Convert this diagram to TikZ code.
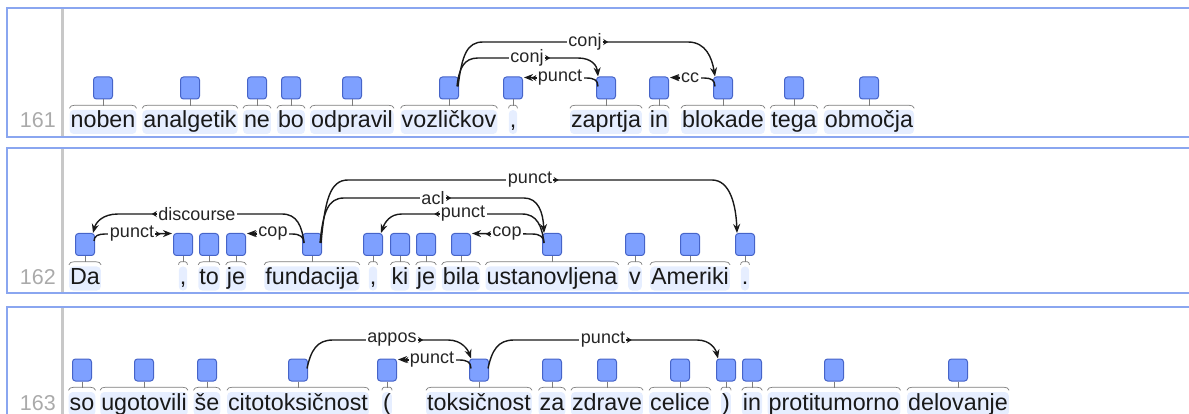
\documentclass[tikz,border=0pt]{standalone}
\usepackage{fontspec}
\setmainfont{Liberation Sans}
\usetikzlibrary{arrows.meta}
\definecolor{panel}{RGB}{138,166,240}
\definecolor{boxfill}{RGB}{126,160,255}
\definecolor{boxdraw}{RGB}{70,100,200}
\definecolor{wordbg}{RGB}{230,238,255}
\definecolor{bracec}{RGB}{125,125,125}
\definecolor{numc}{RGB}{170,170,170}
\definecolor{sepc}{RGB}{200,200,200}
\tikzset{
  panelbox/.style={draw=panel, line width=2pt},
  sepline/.style={draw=sepc, line width=3pt},
  tokbox/.style={draw=boxdraw, fill=boxfill, line width=1pt, rounded corners=3pt, minimum width=19pt, minimum height=22pt, inner sep=0pt},
  word/.style={fill=wordbg, rounded corners=4pt, inner xsep=1pt, inner ysep=1pt, text height=17pt, text depth=5pt, font=\fontsize{23.3}{28}\selectfont, text=black!90},
  linenum/.style={anchor=base east, text=numc, font=\fontsize{21.5}{26}\selectfont, inner sep=0pt},
  bracel/.style={draw=bracec, line width=0.7pt},
  arcl/.style={draw=black!90, line width=1.4pt, -{Stealth[length=9pt,width=7pt]}},
  arclab/.style={fill=white, inner xsep=1.5pt, inner ysep=0.5pt, font=\fontsize{18}{20}\selectfont, text=black!85},
  markline/.style={draw=black!90, line width=1.2pt}
}
\newcommand{\tokbrace}[3]{%
  \draw[bracel] ([yshift=1.5pt]#1.north west) to[out=80,in=180] ([xshift=#3pt,yshift=4.5pt]#1.north west) -- ([xshift=-#3pt,yshift=4.5pt]#1.north east) to[out=0,in=100] ([yshift=1.5pt]#1.north east);
  \draw[bracel] (#2.south) -- ++(0,6.5);}
\newcommand{\lblmarkR}[1]{\draw[markline,-{Stealth[length=5pt,width=6pt]}] ([xshift=-0.5pt]#1.east) -- ++(5.5,0);}
\newcommand{\lblmarkL}[1]{\draw[markline,-{Stealth[length=5pt,width=6pt]}] ([xshift=0.5pt]#1.west) -- ++(-5.5,0);}
\begin{document}
\begin{tikzpicture}[x=1pt,y=-1pt]
\useasboundingbox (0,0) rectangle (1189,414);
\clip (0,0) rectangle (1189,414);
% panels
\draw[panelbox] (1200,8) -- (7,8) -- (7,137) -- (1200,137);
\draw[panelbox] (1200,148) -- (7,148) -- (7,293) -- (1200,293);
\draw[panelbox] (1200,307) -- (7,307) -- (7,430);
\draw[sepline] (62,9) -- (62,136);
\draw[sepline] (62,149) -- (62,292);
\draw[sepline] (62,308) -- (62,414);
\node[linenum] (n161) at (56,128) {161};
\node[linenum] (n162) at (56,284.5) {162};
\node[linenum] (n163) at (56,410) {163};

% ---------- sentence 161 ----------
\foreach \c/\n/\t/\r in {103/1/noben/5, 190/2/analgetik/5, 257/3/ne/5, 291/4/bo/5, 352/5/odpravil/5, 449/6/vozličkov/5, 513/7/{,}/2, 606/8/zaprtja/5, 659/9/in/5, 723/10/blokade/5, 794/11/tega/5, 869/12/območja/5}{
  \node[word] (wa\n) at (\c,122) {\t};
  \node[tokbox] (a\n) at (\c,88) {};
  \tokbrace{wa\n}{a\n}{\r}
}
\draw[arcl] ([xshift=-1pt,yshift=-10pt]a6.north east) .. controls (462,55) and (467,42) .. (483,42) -- (688,42) .. controls (706,42) and (712,58) .. ([xshift=2pt]a10.north west);
\draw[arcl] ([xshift=-2pt,yshift=-10pt]a6.north east) .. controls (459,68) and (464,58) .. (478,58) -- (578,58) .. controls (592,58) and (597,66) .. ([xshift=2pt]a8.north west);
\draw[arcl] ([xshift=2pt,yshift=-10pt]a8.north west) .. controls (598,80) and (594,78) .. (586,78) -- ([xshift=1pt,yshift=-1pt]a7.north east);
\draw[arcl] ([xshift=2pt,yshift=-10pt]a10.north west) .. controls (715,80) and (711,78) .. (704,78) -- ([xshift=1pt,yshift=-1pt]a9.north east);
\node[arclab] (la1) at (585,42) {conj}; \lblmarkR{la1}
\node[arclab] (la2) at (527,58) {conj}; \lblmarkR{la2}
\node[arclab] (la3) at (560,78) {punct}; \lblmarkL{la3}
\node[arclab] (la4) at (690,78) {cc}; \lblmarkL{la4}

% ---------- sentence 162 ----------
\foreach \c/\n/\t/\r in {85/1/Da/5, 183/2/{,}/2, 209/3/to/5, 236/4/je/5, 312/5/fundacija/5, 373/6/{,}/2, 400/7/ki/5, 426/8/je/5, 461/9/bila/5, 552/10/ustanovljena/5, 635/11/v/3, 690/12/Ameriki/5, 745/13/./2}{
  \node[word] (wb\n) at (\c,278.5) {\t};
  \node[tokbox] (b\n) at (\c,244.5) {};
  \tokbrace{wb\n}{b\n}{\r}
}
\draw[arcl] ([xshift=2pt,yshift=-10pt]b5.north west) .. controls (302,226) and (297,214) .. (282,214) -- (118,214) .. controls (103,214) and (96,222) .. ([xshift=-2pt]b1.north east);
\draw[arcl] ([xshift=-1pt,yshift=-8pt]b1.north east) .. controls (94,236) and (98,234) .. (105,234) -- ([xshift=-1pt,yshift=-0.5pt]b2.north west);
\draw[arcl] ([xshift=2pt,yshift=-10pt]b5.north west) .. controls (304,237) and (300,234) .. (292,234) -- ([xshift=1pt,yshift=-0.5pt]b4.north east);
\draw[arcl] ([xshift=-1pt,yshift=-10pt]b5.north east) .. controls (325,200) and (330,180) .. (348,180) -- (712,180) .. controls (730,180) and (736,205) .. ([xshift=2pt]b13.north west);
\draw[arcl] ([xshift=-2pt,yshift=-10pt]b5.north east) .. controls (323,212) and (328,198) .. (344,198) -- (524,198) .. controls (538,198) and (543,212) .. ([xshift=2pt]b10.north west);
\draw[arcl] ([xshift=2pt,yshift=-10pt]b10.north west) .. controls (542,226) and (537,214) .. (522,214) -- (402,214) .. controls (390,214) and (385,222) .. ([xshift=-2pt]b6.north east);
\draw[arcl] ([xshift=2pt,yshift=-10pt]b10.north west) .. controls (544,237) and (540,234) .. (532,234) -- ([xshift=1pt,yshift=-0.5pt]b9.north east);
\node[arclab] (lb1) at (197,214) {discourse}; \lblmarkL{lb1}
\node[arclab] (lb2) at (132,234) {punct}; \lblmarkR{lb2}
\node[arclab] (lb3) at (273,234) {cop}; \lblmarkL{lb3}
\node[arclab] (lb4) at (530,180) {punct}; \lblmarkR{lb4}
\node[arclab] (lb5) at (433,198) {acl}; \lblmarkR{lb5}
\node[arclab] (lb6) at (463,214) {punct}; \lblmarkL{lb6}
\node[arclab] (lb7) at (507,234) {cop}; \lblmarkL{lb7}

% ---------- sentence 163 ----------
\foreach \c/\n/\t/\r in {82/1/so/5, 144/2/ugotovili/5, 207/3/še/5, 298/4/citotoksičnost/5, 387/5/(/2, 479/6/toksičnost/5, 552/7/za/5, 607/8/zdrave/5, 680/9/celice/5, 726/10/)/2, 752/11/in/5, 834/12/protitumorno/5, 958/13/delovanje/5}{
  \node[word] (wc\n) at (\c,404) {\t};
  \node[tokbox] (c\n) at (\c,370) {};
  \tokbrace{wc\n}{c\n}{\r}
}
\draw[arcl] ([xshift=-1pt,yshift=-10pt]c4.north east) .. controls (311,350) and (317,340) .. (333,340) -- (448,340) .. controls (462,340) and (468,350) .. ([xshift=2pt]c6.north west);
\draw[arcl] ([xshift=2pt,yshift=-10pt]c6.north west) .. controls (471,362) and (467,360) .. (459,360) -- ([xshift=1pt,yshift=-1pt]c5.north east);
\draw[arcl] ([xshift=-1pt,yshift=-10pt]c6.north east) .. controls (492,350) and (498,340) .. (514,340) -- (697,340) .. controls (711,340) and (716,350) .. ([xshift=2pt]c10.north west);
\node[arclab] (lc1) at (392,340) {appos}; \lblmarkR{lc1}
\node[arclab] (lc2) at (432,360) {punct}; \lblmarkL{lc2}
\node[arclab] (lc3) at (603,340) {punct}; \lblmarkR{lc3}
\end{tikzpicture}
\end{document}
